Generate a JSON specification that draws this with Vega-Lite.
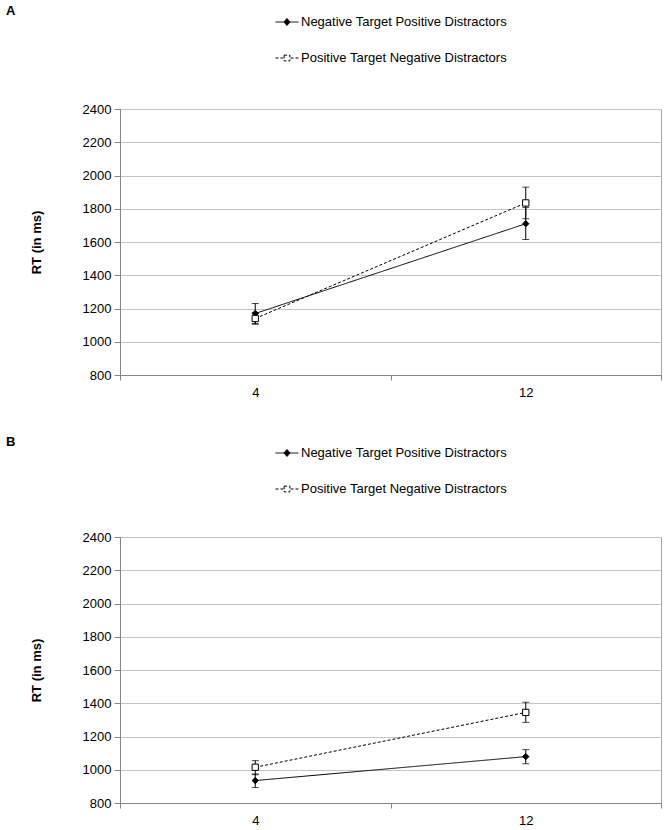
{
  "$schema": "https://vega.github.io/schema/vega-lite/v6.json",
  "background": "white",
  "padding": {"left": 5, "top": 4, "right": 2, "bottom": 5},
  "config": {
    "font": "Liberation Sans",
    "view": {"stroke": "#a6a6a6", "strokeWidth": 1},
    "axis": {"labelFont": "Liberation Sans", "labelFontSize": 13, "labelColor": "black", "titleFont": "Liberation Sans", "titleFontSize": 13, "titleFontWeight": "bold", "titleColor": "black", "domainColor": "#868686", "tickColor": "#868686", "gridColor": "#c4c4c4"},
    "axisY": {"values": [800, 1000, 1200, 1400, 1600, 1800, 2000, 2200, 2400], "format": "d", "labelOverlap": false, "tickSize": 6, "labelPadding": 3, "titlePadding": 39},
    "legend": {
      "orient": "none", "legendX": 155, "direction": "vertical", "title": null,
      "symbolSize": 529, "labelFontSize": 13, "labelFont": "Liberation Sans", "labelColor": "black", "labelOffset": 2, "labelLimit": 400, "rowPadding": 17, "symbolStrokeWidth": 1, "symbolStrokeColor": "black", "padding": 0
    },
    "title": {"font": "Liberation Sans", "fontSize": 13, "fontWeight": "bold", "anchor": "start", "frame": "group", "color": "black"}
  },
  "datasets": {
    "rt": [
      {"panel": "A", "series": "Negative Target Positive Distractors", "setsize": "4", "rt": 1170, "lo": 1110, "hi": 1230},
      {"panel": "A", "series": "Negative Target Positive Distractors", "setsize": "12", "rt": 1710, "lo": 1615, "hi": 1807},
      {"panel": "A", "series": "Positive Target Negative Distractors", "setsize": "4", "rt": 1140, "lo": 1105, "hi": 1175},
      {"panel": "A", "series": "Positive Target Negative Distractors", "setsize": "12", "rt": 1835, "lo": 1740, "hi": 1930},
      {"panel": "B", "series": "Negative Target Positive Distractors", "setsize": "4", "rt": 935, "lo": 893, "hi": 975},
      {"panel": "B", "series": "Negative Target Positive Distractors", "setsize": "12", "rt": 1079, "lo": 1036, "hi": 1121},
      {"panel": "B", "series": "Positive Target Negative Distractors", "setsize": "4", "rt": 1015, "lo": 970, "hi": 1055},
      {"panel": "B", "series": "Positive Target Negative Distractors", "setsize": "12", "rt": 1345, "lo": 1285, "hi": 1406}
    ]
  },
  "data": {"name": "rt"},
  "spacing": 35,
  "resolve": {"scale": {"strokeDash": "independent"}, "legend": {"strokeDash": "independent"}},
  "vconcat": [
    {
      "title": {"text": "A", "dx": -114, "dy": 12},
      "width": 541, "height": 266,
      "transform": [{"filter": "datum.panel === 'A'"}],
      "encoding": {
        "x": {"field": "setsize", "type": "ordinal", "sort": ["4", "12"], "scale": {"type": "band", "paddingInner": 0, "paddingOuter": 0}, "axis": {"title": null, "labelAngle": 0, "tickBand": "extent", "tickSize": 5, "labelPadding": 6, "grid": false}}
      },
      "layer": [
        {"mark": {"type": "line", "color": "black", "strokeWidth": 1},
         "encoding": {
           "y": {"field": "rt", "type": "quantitative", "title": "RT (in ms)", "scale": {"domain": [800, 2400], "nice": false, "zero": false}},
           "strokeDash": {"field": "series", "type": "nominal", "scale": {"domain": ["Negative Target Positive Distractors", "Positive Target Negative Distractors"], "range": [[1, 0], [3, 2]]},
             "legend": {"legendY": -99, "symbolDash": [1, 0], "encode": {"symbols": {"update": {
               "shape": {"signal": "datum.value === 'Negative Target Positive Distractors' ? 'M-1,0L1,0M0,-0.3L0.27,0L0,0.3L-0.27,0Z' : 'M-1,0L-0.74,0M-0.57,0L-0.31,0M0.31,0L0.57,0M0.74,0L1,0M-0.25,-0.25L0.25,-0.25L0.25,0.25L-0.25,0.25Z'"},
               "fill": {"signal": "datum.value === 'Negative Target Positive Distractors' ? 'black' : 'white'"},
               "stroke": {"value": "black"},
               "strokeDash": {"value": [1, 0]},
               "opacity": {"value": 1}
             }}}}}
         }},
        {"mark": {"type": "rule", "color": "black", "strokeWidth": 1},
         "encoding": {"y": {"field": "lo", "type": "quantitative", "title": "RT (in ms)"}, "y2": {"field": "hi"}}},
        {"mark": {"type": "tick", "color": "black", "size": 7, "thickness": 1},
         "encoding": {"y": {"field": "lo", "type": "quantitative", "title": "RT (in ms)"}}},
        {"mark": {"type": "tick", "color": "black", "size": 7, "thickness": 1},
         "encoding": {"y": {"field": "hi", "type": "quantitative", "title": "RT (in ms)"}}},
        {"transform": [{"filter": "datum.series === 'Negative Target Positive Distractors'"}],
         "mark": {"type": "point", "shape": "diamond", "filled": true, "fill": "black", "stroke": "black", "strokeWidth": 1, "opacity": 1, "size": 40},
         "encoding": {"y": {"field": "rt", "type": "quantitative", "title": "RT (in ms)"}}},
        {"transform": [{"filter": "datum.series === 'Positive Target Negative Distractors'"}],
         "mark": {"type": "point", "shape": "square", "filled": true, "fill": "white", "stroke": "black", "strokeWidth": 1, "opacity": 1, "size": 40},
         "encoding": {"y": {"field": "rt", "type": "quantitative", "title": "RT (in ms)"}}}
      ]
    },
    {
      "title": {"text": "B", "dx": -114, "dy": 12},
      "width": 541, "height": 266,
      "transform": [{"filter": "datum.panel === 'B'"}],
      "encoding": {
        "x": {"field": "setsize", "type": "ordinal", "sort": ["4", "12"], "scale": {"type": "band", "paddingInner": 0, "paddingOuter": 0}, "axis": {"title": null, "labelAngle": 0, "tickBand": "extent", "tickSize": 5, "labelPadding": 6, "grid": false}}
      },
      "layer": [
        {"mark": {"type": "line", "color": "black", "strokeWidth": 1},
         "encoding": {
           "y": {"field": "rt", "type": "quantitative", "title": "RT (in ms)", "scale": {"domain": [800, 2400], "nice": false, "zero": false}},
           "strokeDash": {"field": "series", "type": "nominal", "scale": {"domain": ["Negative Target Positive Distractors", "Positive Target Negative Distractors"], "range": [[1, 0], [3, 2]]},
             "legend": {"legendY": -96, "symbolDash": [1, 0], "encode": {"symbols": {"update": {
               "shape": {"signal": "datum.value === 'Negative Target Positive Distractors' ? 'M-1,0L1,0M0,-0.3L0.27,0L0,0.3L-0.27,0Z' : 'M-1,0L-0.74,0M-0.57,0L-0.31,0M0.31,0L0.57,0M0.74,0L1,0M-0.25,-0.25L0.25,-0.25L0.25,0.25L-0.25,0.25Z'"},
               "fill": {"signal": "datum.value === 'Negative Target Positive Distractors' ? 'black' : 'white'"},
               "stroke": {"value": "black"},
               "strokeDash": {"value": [1, 0]},
               "opacity": {"value": 1}
             }}}}}
         }},
        {"mark": {"type": "rule", "color": "black", "strokeWidth": 1},
         "encoding": {"y": {"field": "lo", "type": "quantitative", "title": "RT (in ms)"}, "y2": {"field": "hi"}}},
        {"mark": {"type": "tick", "color": "black", "size": 7, "thickness": 1},
         "encoding": {"y": {"field": "lo", "type": "quantitative", "title": "RT (in ms)"}}},
        {"mark": {"type": "tick", "color": "black", "size": 7, "thickness": 1},
         "encoding": {"y": {"field": "hi", "type": "quantitative", "title": "RT (in ms)"}}},
        {"transform": [{"filter": "datum.series === 'Negative Target Positive Distractors'"}],
         "mark": {"type": "point", "shape": "diamond", "filled": true, "fill": "black", "stroke": "black", "strokeWidth": 1, "opacity": 1, "size": 40},
         "encoding": {"y": {"field": "rt", "type": "quantitative", "title": "RT (in ms)"}}},
        {"transform": [{"filter": "datum.series === 'Positive Target Negative Distractors'"}],
         "mark": {"type": "point", "shape": "square", "filled": true, "fill": "white", "stroke": "black", "strokeWidth": 1, "opacity": 1, "size": 40},
         "encoding": {"y": {"field": "rt", "type": "quantitative", "title": "RT (in ms)"}}}
      ]
    }
  ]
}
